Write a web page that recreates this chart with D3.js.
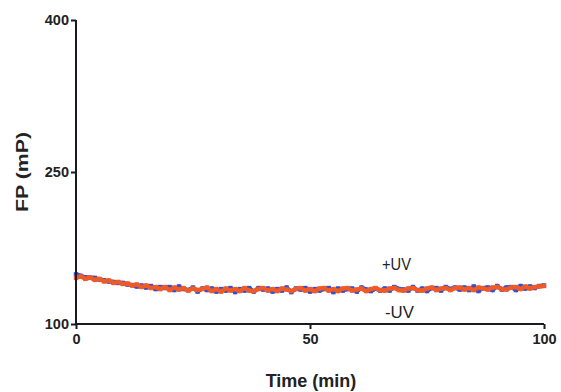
<!DOCTYPE html>
<html><head><meta charset="utf-8">
<script src="https://cdn.jsdelivr.net/npm/d3@7"></script>
<style>body{margin:0;background:#fff}</style>
</head><body><svg id="c" width="561" height="392"></svg>
<script>
const yTicks = [100, 250, 400];
const xTicks = [0, 50, 100];
const minusUV = [145.5,147,144.5,146,143.5,144.5,142,143,140.5,141.5,139.5,140,138,139,136.5,138,135.5,136.5,134.5,136.5,133.5,136,134,135.5,133,135,133.5,134.5,136,132.5,134.5,132,135,133,134.5,132.5,135.5,133,132.5,134.5,135.5,133,134.5,132.5,135,134,132.5,134.5,135.5,133,134.5,132.5,135,135.5,133,134.5,132.5,135,135.5,133,134,135,132.5,134.5,135.5,133.5,133,135,135.5,133.5,133,135,135.5,133.5,133,135,136,133.5,135,135.5,133.5,135.5,136,134,135.5,133.5,136,135,134,136,136.5,134.5,134,136,136.5,134.5,137,135,136.5,137,137.5];
const plusUV = [149,147.5,146,145.5,145.5,144,143,142,141.5,140.5,140.5,139,138.5,137,138,136,137.5,134.5,136.5,135.5,136.5,133.5,137,134.5,133.5,136,132,135,133.5,135,132,134.5,133,135.5,131.5,134.5,133,135.5,132,135.5,134,135,132,134.5,133,136,131.5,135,134,135.5,132,134.5,133,134.5,135.5,131.5,135,133,134.5,135,132,136,134,132.5,135,133,135,133,136.5,134.5,134,133,136.5,133,135,132.5,135.5,135.5,133,136.5,134.5,136,134,136,133.5,137,132.5,135.5,136,133.5,137.5,134,136,136.5,133.5,137.5,135,137,135.5,137.5,138];
const seriesNames = ["+UV", "-UV"];
const colors = ["#3550cc", "#ee5a28"];

const svg = d3.select("#c");
const m = {l:76, r:17, t:20, b:68};
const W = 561, H = 392;
const x = d3.scaleLinear().domain([0,100]).range([m.l, W-m.r]);
const y = d3.scaleLinear().domain([100,400]).range([H-m.b, m.t]);

const fontB = "Arial, 'Liberation Sans', sans-serif";

const line = d3.line().x((d,i)=>x(i)).y(d=>y(d));
[plusUV, minusUV].forEach((s,k)=>{
  svg.append("path").datum(s).attr("d", line)
    .attr("fill","none").attr("stroke",colors[k]).attr("stroke-width",4.2)
    .attr("stroke-linejoin","round");
  svg.append("g").selectAll("rect").data(s).join("rect")
    .attr("x",(d,i)=>x(i)-2.2).attr("y",d=>y(d)-2.2)
    .attr("width",4.4).attr("height",4.4).attr("fill",colors[k]);
});

const xa = svg.append("g").attr("transform",`translate(0,${H-m.b})`)
  .call(d3.axisBottom(x).tickValues(xTicks).tickSize(5).tickPadding(5));
const ya = svg.append("g").attr("transform",`translate(${m.l},0)`)
  .call(d3.axisLeft(y).tickValues(yTicks).tickSize(5).tickPadding(2));
[xa, ya].forEach(a=>{
  a.select(".domain").attr("stroke","#1a1a22").attr("stroke-width",2);
  a.selectAll(".tick line").attr("stroke","#1a1a22").attr("stroke-width",2);
  a.selectAll("text").attr("font-family",fontB).attr("font-weight","bold")
    .attr("font-size",14.5).attr("fill","#222");
});
xa.select(".domain").attr("d", `M${x(0)},0H${x(100)}`);
ya.select(".domain").attr("d", `M0,${y(100)}V${y(400)}`);

svg.append("text").attr("x",311).attr("y",387).attr("text-anchor","middle")
  .attr("font-family",fontB).attr("font-weight","bold").attr("font-size",18)
  .attr("fill","#222").text("Time (min)");
svg.append("text").attr("transform","translate(28,172) rotate(-90)")
  .attr("text-anchor","middle")
  .attr("font-family",fontB).attr("font-weight","bold").attr("font-size",16)
  .attr("textLength",80).attr("lengthAdjust","spacingAndGlyphs")
  .attr("fill","#222").text("FP (mP)");

svg.append("text").attr("x",382).attr("y",270)
  .attr("font-family",fontB).attr("font-size",17).attr("fill","#222")
  .attr("textLength",29).attr("lengthAdjust","spacingAndGlyphs").text(seriesNames[0]);
svg.append("text").attr("x",385).attr("y",318)
  .attr("font-family",fontB).attr("font-size",17).attr("fill","#222")
  .attr("textLength",29).attr("lengthAdjust","spacingAndGlyphs").text(seriesNames[1]);
</script></body></html>
